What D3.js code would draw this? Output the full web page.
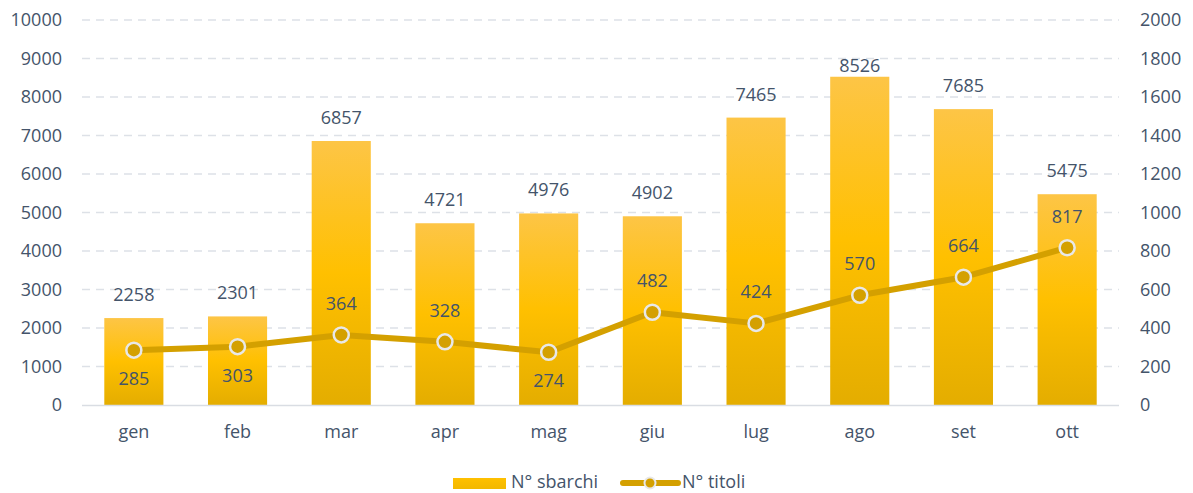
<!DOCTYPE html>
<html><head><meta charset="utf-8">
<script src="https://cdn.jsdelivr.net/npm/d3@7"></script>
<style>body{margin:0;background:#fff;} text{font-family:"Open Sans","Noto Sans",sans-serif;fill:#44546a;}</style>
</head><body>
<svg id="c" width="1193" height="493"></svg>
<script>
const categories = ["gen","feb","mar","apr","mag","giu","lug","ago","set","ott"];
const sbarchi = [2258,2301,6857,4721,4976,4902,7465,8526,7685,5475];
const titoli = [285,303,364,328,274,482,424,570,664,817];
const titoliLabelBelow = [true,true,false,false,true,false,false,false,false,false];
const leftTicks = [0,1000,2000,3000,4000,5000,6000,7000,8000,9000,10000];
const rightTicks = [0,200,400,600,800,1000,1200,1400,1600,1800,2000];
const seriesNames = ["N° sbarchi","N° titoli"];

const svg = d3.select("#c");
const L = 82, R = 1119, T = 20, B = 405;
const FS = "18px";
const x = d3.scaleBand().domain(categories).range([L,R]).paddingInner(0.43).paddingOuter(0.215);
const yL = d3.scaleLinear().domain([0,10000]).range([B,T]);
const yR = d3.scaleLinear().domain([0,2000]).range([B,T]);

const defs = svg.append("defs");
const g = defs.append("linearGradient").attr("id","bg").attr("x1",0).attr("y1",0).attr("x2",0).attr("y2",1);
g.append("stop").attr("offset","0%").attr("stop-color","#fdc546");
g.append("stop").attr("offset","50%").attr("stop-color","#ffc000");
g.append("stop").attr("offset","100%").attr("stop-color","#e4ad00");
const gb = defs.append("linearGradient").attr("id","bgl").attr("x1",0).attr("y1",0).attr("x2",0).attr("y2",1);
gb.append("stop").attr("offset","0%").attr("stop-color","#ffc000");
gb.append("stop").attr("offset","100%").attr("stop-color","#f2b800");

// gridlines
svg.append("g").selectAll("line").data(leftTicks.filter(d=>d>0)).join("line")
  .attr("x1",L).attr("x2",R).attr("y1",d=>yL(d)).attr("y2",d=>yL(d))
  .attr("stroke","#dde1e7").attr("stroke-width",1.5).attr("stroke-dasharray","8,6");

// left axis
const ax = svg.append("g").attr("transform",`translate(${L},0)`)
  .call(d3.axisLeft(yL).tickValues(leftTicks).tickSize(0).tickPadding(20).tickFormat(d3.format("d")));
ax.select(".domain").remove();
ax.selectAll("text").style("font-size",FS).attr("fill","#44546a");
const axr = svg.append("g").attr("transform",`translate(${R},0)`)
  .call(d3.axisRight(yR).tickValues(rightTicks).tickSize(0).tickPadding(21).tickFormat(d3.format("d")));
axr.select(".domain").remove();
axr.selectAll("text").style("font-size",FS).attr("fill","#44546a");

// bars
svg.append("g").selectAll("rect").data(sbarchi).join("rect")
  .attr("x",(d,i)=>x(categories[i])).attr("width",x.bandwidth())
  .attr("y",d=>yL(d)).attr("height",d=>B-yL(d)).attr("fill","url(#bg)");

// baseline
svg.append("line").attr("x1",L).attr("x2",R).attr("y1",B+0.5).attr("y2",B+0.5).attr("stroke","#d9dde3").attr("stroke-width",1.5);

// x axis
const axb = svg.append("g").attr("transform",`translate(0,${B})`)
  .call(d3.axisBottom(x).tickSize(0).tickPadding(20));
axb.select(".domain").remove();
axb.selectAll("text").style("font-size",FS).attr("fill","#44546a");

// bar labels
svg.append("g").selectAll("text").data(sbarchi).join("text")
  .attr("x",(d,i)=>x(categories[i])+x.bandwidth()/2).attr("y",d=>Math.max(yL(d)-17, T+52))
  .attr("text-anchor","middle").style("font-size",FS).text(d=>d);

// line
const cx = i => x(categories[i])+x.bandwidth()/2;
const line = d3.line().x((d,i)=>cx(i)).y(d=>yR(d));
svg.append("path").datum(titoli).attr("d",line).attr("fill","none")
  .attr("stroke","#d4a000").attr("stroke-width",6).attr("stroke-linejoin","round");
svg.append("g").selectAll("circle").data(titoli).join("circle")
  .attr("cx",(d,i)=>cx(i)).attr("cy",d=>yR(d)).attr("r",7.5)
  .attr("fill","#d4a000").attr("stroke","#e8e8e8").attr("stroke-width",2.5);
svg.append("g").selectAll("text").data(titoli).join("text")
  .attr("x",(d,i)=>cx(i)).attr("y",(d,i)=>titoliLabelBelow[i]? yR(d)+35 : yR(d)-25)
  .attr("text-anchor","middle").style("font-size",FS).text(d=>d);

// legend
const lg = svg.append("g");
lg.append("rect").attr("x",453).attr("y",478).attr("width",53).attr("height",11).attr("fill","url(#bgl)");
lg.append("text").attr("x",511).attr("y",488).style("font-size",FS).text(seriesNames[0]);
lg.append("line").attr("x1",623).attr("x2",678).attr("y1",483).attr("y2",483).attr("stroke","#d4a000").attr("stroke-width",6).attr("stroke-linecap","round");
lg.append("circle").attr("cx",650).attr("cy",483).attr("r",5.5).attr("fill","#d4a000").attr("stroke","#e8e8e8").attr("stroke-width",2);
lg.append("text").attr("x",682).attr("y",488).style("font-size",FS).text(seriesNames[1]);
</script>
</body></html>
